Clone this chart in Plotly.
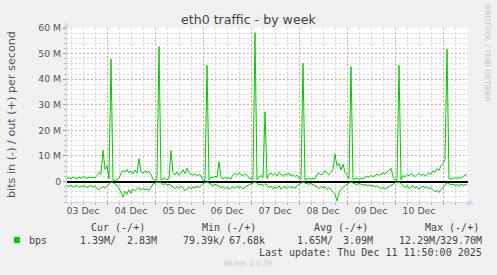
import plotly.graph_objects as go
import pandas as pd

# ---------------- data (Mbit/s, hourly samples) ----------------
series_start = "2025-12-03 04:00"

out_mbps = [
    1.2, 1.6, 1.0, 1.8, 1.4, 1.1, 1.7, 1.3, 1.9, 1.5, 1.2, 1.8, 1.4, 1.6, 1.3,   # 0-14
    2.4, 3.6, 2.8,                                                              # 15-17
    12.2, 4.8, 6.2, 1.0, 47.8, 0.6,                                             # 18-23
    0.4, 0.8, 1.2,                                                              # 24-26
    3.2, 4.4, 3.6, 4.8, 3.4, 4.1, 3.0, 4.5, 3.3,                                # 27-35
    9.0,                                                                        # 36
    3.8, 3.2, 4.2, 3.5, 3.9, 2.8,                                               # 37-42
    0.8, 0.5, 0.9,                                                              # 43-45
    52.8, 0.6,                                                                  # 46-47
    0.9, 1.4, 0.7, 1.2,                                                         # 48-51
    12.0,                                                                       # 52
    3.5, 2.6, 3.8, 2.4, 3.2,                                                    # 53-57
    4.6, 3.1, 5.2, 3.4, 2.8,                                                    # 58-62
    2.5, 3.0, 2.2, 2.7, 2.4,                                                    # 63-67
    0.6, 0.3,                                                                   # 68-69
    45.4, 0.5,                                                                  # 70-71
    1.8, 1.4, 2.1, 1.6,                                                         # 72-75
    7.7,                                                                        # 76
    1.5, 1.1, 1.6, 1.2, 1.4, 1.0,                                               # 77-82
    2.6, 3.2, 2.4, 3.4, 2.8, 2.2, 3.0, 2.5,                                     # 83-90
    1.4, 1.0, 0.8,                                                              # 91-93
    58.2, 0.7,                                                                  # 94-95
    1.9, 2.3, 1.6,                                                              # 96-98
    27.3, 1.2,                                                                  # 99-100
    2.8, 3.4, 2.4, 3.1, 2.2, 3.6, 2.6, 2.0, 3.0, 2.4, 3.3, 2.1, 2.7, 1.9, 2.5, 1.3, 0.8,  # 101-117
    46.2, 0.6,                                                                  # 118-119
    1.0, 1.3, 0.9, 1.2, 1.0,                                                    # 120-124
    2.8, 3.4, 2.6, 3.0, 4.2, 3.2, 2.6, 3.6, 4.8,                                # 125-133
    10.7, 6.0, 7.2, 4.5, 6.8, 3.6, 2.4, 1.0,                                    # 134-141
    44.9, 0.8,                                                                  # 142-143
    1.0, 1.3, 0.8, 1.4, 1.1, 1.8, 2.2, 1.6, 2.4, 1.9,                           # 144-153
    2.2, 2.8, 2.4, 3.0, 3.4, 2.9, 3.8, 4.4, 5.2,                                # 154-162
    2.0, 0.5, 0.6, 45.4, 0.7,                                                   # 163-167
    2.4, 1.8, 2.8, 2.2, 3.0, 2.5, 1.9, 2.7, 3.2, 2.3, 2.9, 2.1, 2.6, 3.4, 2.8,  # 168-182
    4.2, 3.6, 5.0, 4.4, 6.2, 7.0, 8.7,                                          # 183-189
    51.7, 0.9,                                                                  # 190-191
    1.2, 1.0, 1.5, 1.2, 1.6, 1.3, 2.0, 2.6, 2.83,                               # 192-200
]

in_mbps = [
    1.6, 2.0, 1.4, 2.2, 1.8, 1.5, 2.3, 1.7, 2.0, 1.6, 2.4, 1.9, 1.5, 2.1, 1.8,   # 0-14
    2.8, 3.1, 2.5,                                                              # 15-17
    2.0, 2.6, 1.8, 1.2, 0.3, 0.5,                                               # 18-23
    0.8, 1.4, 2.6,                                                              # 24-26
    4.2, 6.1, 3.8, 5.0, 3.2, 4.6, 2.9, 3.6, 2.7,                                # 27-35
    2.4,                                                                        # 36
    3.4, 2.6, 3.2, 2.8, 3.5, 2.4,                                               # 37-42
    1.0, 0.6, 0.4,                                                              # 43-45
    0.2, 0.5,                                                                   # 46-47
    1.2, 0.8, 1.5, 1.0,                                                         # 48-51
    1.4,                                                                        # 52
    2.2, 2.8, 2.0, 2.6, 1.9,                                                    # 53-57
    2.4, 3.6, 2.9, 2.3, 2.7,                                                    # 58-62
    2.2, 2.6, 1.8, 2.4, 1.5,                                                    # 63-67
    0.8, 0.5,                                                                   # 68-69
    0.3, 0.6,                                                                   # 70-71
    1.2, 1.6, 1.1, 1.4,                                                         # 72-75
    1.8,                                                                        # 76
    2.4, 1.9, 2.8, 2.2, 3.0, 2.5,                                               # 77-82
    2.1, 2.7, 1.8, 2.4, 2.0, 2.9, 2.2, 1.7,                                     # 83-90
    1.2, 0.8, 0.5,                                                              # 91-93
    0.3, 0.6,                                                                   # 94-95
    1.4, 1.0, 1.6,                                                              # 96-98
    0.8, 1.3,                                                                   # 99-100
    2.4, 1.8, 2.9, 2.2, 2.6, 1.7, 3.0, 2.3, 2.0, 2.7, 1.9, 2.5, 2.1, 2.8, 1.6, 1.0, 0.6,  # 101-117
    0.3, 0.5,                                                                   # 118-119
    0.8, 1.1, 0.7, 1.3, 1.5,                                                    # 120-124
    2.2, 2.8, 1.9, 2.5, 2.0, 3.1, 2.4, 3.0, 4.2,                                # 125-133
    5.0, 7.6, 4.4, 3.0, 2.2, 1.6, 1.0, 0.6,                                     # 134-141
    0.3, 0.6,                                                                   # 142-143
    0.8, 1.2, 0.7, 1.0, 1.4, 1.1, 1.6, 1.3, 1.8, 1.5,                           # 144-153
    2.1, 1.7, 2.4, 2.8, 2.2, 3.0, 2.5, 2.0, 1.4,                                # 154-162
    0.9, 0.5, 0.4, 0.3, 0.8,                                                    # 163-167
    1.8, 2.4, 1.5, 2.8, 2.1, 1.6, 2.6, 2.0, 3.0, 2.3, 1.7, 2.5, 2.0, 2.9, 2.4,  # 168-182
    3.2, 4.0, 3.4, 4.3, 3.1, 2.4, 1.6,                                          # 183-189
    0.5, 0.9,                                                                   # 190-191
    1.3, 1.0, 1.5, 1.2, 1.6, 1.1, 1.4, 1.2, 1.39,                               # 192-200
]

day_labels = ["03 Dec", "04 Dec", "05 Dec", "06 Dec", "07 Dec", "08 Dec", "09 Dec", "10 Dec"]
y_tick_vals = [0, 10e6, 20e6, 30e6, 40e6, 50e6, 60e6]
y_tick_text = ["0", "10 M", "20 M", "30 M", "40 M", "50 M", "60 M"]

legend_name = "bps"
cur_vals = ("1.39M/", "2.83M")
min_vals = ("79.39k/", "67.68k")
avg_vals = ("1.65M/", "3.09M")
max_vals = ("12.29M/", "329.70M")

title_text = "eth0 traffic - by week"
y_title = "bits in (-) / out (+) per second"
last_update = "Last update: Thu Dec 11 11:50:00 2025"
munin_ver = "Munin 2.0.76"
rrd_credit = "RRDTOOL / TOBI OETIKER"

# ---------------- figure ----------------
W, H = 497, 275
ML, MR, MT, MB = 67, 29, 28, 73
PW, PH = W - ML - MR, H - MT - MB


def px(xp):
    return (xp - ML) / PW


def py(yp):
    return (H - MB - yp) / PH


t_out = pd.date_range(series_start, periods=len(out_mbps), freq="h")
t_in = pd.date_range(series_start, periods=len(in_mbps), freq="h")
x_range = ["2025-12-03 04:00", "2025-12-11 12:30"]
noon_ticks = pd.date_range("2025-12-03 12:00", periods=len(day_labels), freq="D")
midnight_ticks = pd.date_range("2025-12-04 00:00", periods=len(day_labels), freq="D")

GREEN = "#00CC00"
AXIS = "#CFD6F8"
MAJ = "#EBA0A0"
MINC = "#D6D6D6"
TXT = "#555555"
DASH = "2px,2px"

fig = go.Figure()
fig.add_trace(go.Scatter(x=t_out, y=[v * 1e6 for v in out_mbps], mode="lines",
                         line=dict(color=GREEN, width=1), hoverinfo="skip", xaxis="x"))
fig.add_trace(go.Scatter(x=t_in, y=[-v * 1e6 for v in in_mbps], mode="lines",
                         line=dict(color=GREEN, width=1), hoverinfo="skip", xaxis="x2"))

fig.update_layout(
    width=W, height=H,
    margin=dict(l=ML, r=MR, t=MT, b=MB, pad=0),
    paper_bgcolor="#F0F0F0",
    plot_bgcolor="#FFFFFF",
    showlegend=False,
    xaxis=dict(
        type="date", range=x_range,
        tickmode="array", tickvals=noon_ticks, ticktext=day_labels,
        showgrid=False, zeroline=False,
        showline=True, linecolor=AXIS, linewidth=1,
        ticks="", tickfont=dict(family="DejaVu Sans", size=9.3, color=TXT),
        minor=dict(dtick=6 * 3600 * 1000, tick0="2025-12-03 00:00", showgrid=True,
                   gridcolor=MINC, griddash=DASH, gridwidth=1,
                   ticks="outside", ticklen=2, tickcolor="#BBBBBB"),
        fixedrange=True,
    ),
    xaxis2=dict(
        type="date", range=x_range, overlaying="x", anchor="y", side="bottom",
        tickmode="array", tickvals=midnight_ticks, showticklabels=False,
        showgrid=True, gridcolor=MAJ, griddash=DASH, gridwidth=1,
        ticks="outside", ticklen=2, tickcolor="#E08080",
        showline=False, zeroline=False,
    ),
    yaxis=dict(
        range=[-8e6, 60e6],
        tickmode="array", tickvals=y_tick_vals, ticktext=y_tick_text,
        showgrid=True, gridcolor=MAJ, griddash=DASH, gridwidth=1,
        zeroline=True, zerolinecolor="#000000", zerolinewidth=1.6,
        showline=True, linecolor=AXIS, linewidth=1,
        ticks="outside", ticklen=3, tickcolor="#E08080",
        tickfont=dict(family="DejaVu Sans", size=9.3, color=TXT),
        minor=dict(dtick=2e6, tick0=0, showgrid=True, gridcolor=MINC,
                   griddash=DASH, gridwidth=1, ticks="outside", ticklen=2,
                   tickcolor="#BBBBBB"),
        fixedrange=True,
    ),
)

ann = []
# title
ann.append(dict(text=title_text, x=px(248.5), y=py(19.5), xref="paper", yref="paper",
                showarrow=False, xanchor="center", yanchor="middle",
                font=dict(family="DejaVu Sans", size=12.6, color="#444444")))
# y title
ann.append(dict(text=y_title, x=px(11), y=py(115), xref="paper", yref="paper",
                showarrow=False, textangle=-90, xanchor="center", yanchor="middle",
                font=dict(family="DejaVu Sans", size=11.2, color=TXT)))
# rrdtool credit
ann.append(dict(text=rrd_credit, x=px(487.5), y=py(53.5), xref="paper", yref="paper",
                showarrow=False, textangle=90, xanchor="center", yanchor="middle",
                font=dict(family="DejaVu Sans", size=7.5, color="#C4C4C4")))
# axis arrows
ann.append(dict(text="▲", x=px(66.5), y=py(24.5), xref="paper", yref="paper",
                showarrow=False, xanchor="center", yanchor="middle",
                font=dict(family="DejaVu Sans", size=8, color=AXIS)))
ann.append(dict(text="▶", x=px(471.5), y=py(202.5), xref="paper", yref="paper",
                showarrow=False, xanchor="center", yanchor="middle",
                font=dict(family="DejaVu Sans", size=8, color=AXIS)))

MONO = dict(family="DejaVu Sans Mono", size=10, color="#444444")


def mono(text, xp, yp, anchor="left"):
    ann.append(dict(text=text.replace(" ", "&nbsp;"), x=px(xp), y=py(yp), xref="paper",
                    yref="paper", showarrow=False, xanchor=anchor, yanchor="middle",
                    font=MONO))


# legend header
mono("Cur (-/+)", 89.0, 227.5)
mono("Min (-/+)", 200.0, 227.5)
mono("Avg (-/+)", 311.7, 227.5)
mono("Max (-/+)", 422.7, 227.5)
# legend values
mono(legend_name, 26.5, 240.5)
mono(cur_vals[0], 77.8, 240.5)
mono(cur_vals[1], 158.5, 240.5, "right")
mono(min_vals[0], 180.5, 240.5)
mono(min_vals[1], 266.5, 240.5, "right")
mono(avg_vals[0], 294.8, 240.5)
mono(avg_vals[1], 375.2, 240.5, "right")
mono(max_vals[0], 397.2, 240.5)
mono(max_vals[1], 483.5, 240.5, "right")
mono(last_update, 483.5, 252.0, "right")

ann.append(dict(text=munin_ver, x=px(248), y=py(263.5), xref="paper", yref="paper",
                showarrow=False, xanchor="center", yanchor="middle",
                font=dict(family="DejaVu Sans", size=7.5, color="#C8C8C8")))

fig.update_layout(annotations=ann)

# legend swatch
fig.add_shape(type="rect", xref="paper", yref="paper",
              x0=px(14), x1=px(20), y0=py(243), y1=py(237),
              fillcolor=GREEN, line=dict(width=0))

fig.write_html("out.html")
